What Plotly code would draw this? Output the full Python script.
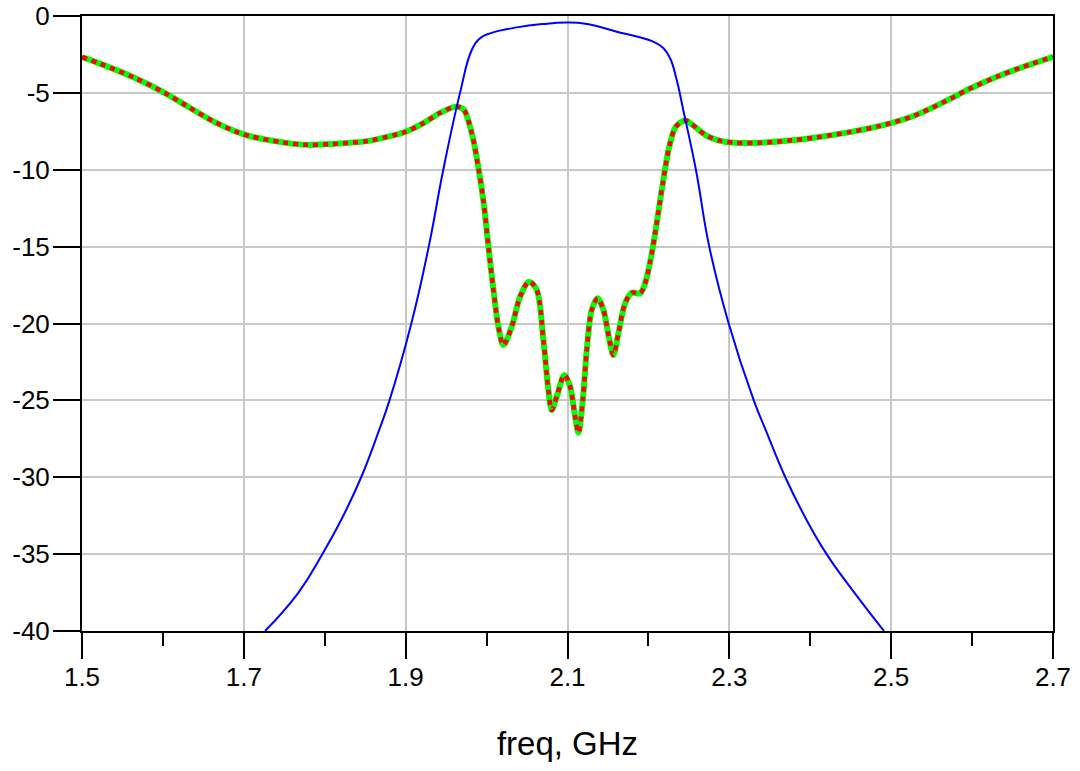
import plotly.graph_objects as go

# S21 (blue)
s21_freq = [1.7262, 1.7675, 1.797, 1.821, 1.845, 1.8663, 1.880, 1.907, 1.9285,
            1.9465, 1.9672, 1.9817, 1.992, 2.0043, 2.0373, 2.070, 2.099, 2.124,
            2.161, 2.206, 2.2186, 2.2268, 2.235, 2.243, 2.2587, 2.2752, 2.2992,
            2.3302, 2.3455, 2.3692, 2.3937, 2.4202, 2.4545, 2.4912]
s21_db = [-40, -37.5, -35, -32.7, -30, -27.06, -25, -20, -15,
          -10, -5, -2.21, -1.45, -1.13, -0.74, -0.52, -0.43, -0.52,
          -1.02, -1.67, -2.1, -2.75, -4.16, -6.1, -10, -15, -20,
          -25, -27.0, -30, -32.6, -35, -37.5, -40]

# S11 (green / red dotted)
s11_freq = [1.5, 1.5222, 1.5634, 1.6005, 1.6294, 1.6623, 1.687, 1.7077, 1.7483,
            1.7773, 1.810, 1.8517, 1.8847, 1.9, 1.9219, 1.9426, 1.9622, 1.9715,
            1.9818, 1.990, 1.9963, 2.0025, 2.0085, 2.0146, 2.0208, 2.0311, 2.0414,
            2.0525, 2.062, 2.0702, 2.0764, 2.0806, 2.0867, 2.0962, 2.1032, 2.1094,
            2.1135, 2.1189, 2.1238, 2.13, 2.1374, 2.1444, 2.1518, 2.1567, 2.1629,
            2.1712, 2.1795, 2.1897, 2.1959, 2.2025, 2.209, 2.2174, 2.2256, 2.2339,
            2.2455, 2.2545, 2.271, 2.2876, 2.308, 2.337, 2.3744, 2.407, 2.4488,
            2.4864, 2.5276, 2.5688, 2.5976, 2.6306, 2.6636, 2.7]
s11_db = [-2.67, -3.1, -3.98, -4.95, -5.85, -6.85, -7.45, -7.82, -8.22,
          -8.38, -8.32, -8.14, -7.76, -7.53, -6.97, -6.3, -5.9, -6.07,
          -7.64, -9.9, -12.1, -15.1, -17.82, -20.2, -21.4, -20.2, -18.26,
          -17.28, -17.82, -21.07, -24.33, -25.63, -24.76, -23.35, -24.1, -26.06,
          -27.1, -24.98, -21.72, -19.12, -18.36, -19.12, -21.07, -22.05, -20.64,
          -18.69, -18.0, -18.04, -17.39, -15.9, -13.9, -11.0, -8.54, -7.2,
          -6.8, -7.08, -7.76, -8.1, -8.25, -8.25, -8.1, -7.9, -7.55,
          -7.15, -6.5, -5.5, -4.72, -3.95, -3.3, -2.65]

x_tick_vals = [1.5, 1.7, 1.9, 2.1, 2.3, 2.5, 2.7]
x_tick_labels = ["1.5", "1.7", "1.9", "2.1", "2.3", "2.5", "2.7"]
y_tick_vals = [0, -5, -10, -15, -20, -25, -30, -35, -40]
y_tick_labels = ["0", "-5", "-10", "-15", "-20", "-25", "-30", "-35", "-40"]

fig = go.Figure()
fig.add_trace(go.Scatter(x=s11_freq, y=s11_db, mode="lines",
                         line=dict(color="#00ff00", width=6, shape="spline", smoothing=0.9),
                         hoverinfo="skip", showlegend=False))
fig.add_trace(go.Scatter(x=s11_freq, y=s11_db, mode="lines",
                         line=dict(color="#ff0000", width=4.5, dash="5px,5px", shape="spline", smoothing=0.9),
                         showlegend=False))
fig.add_trace(go.Scatter(x=s21_freq, y=s21_db, mode="lines",
                         line=dict(color="#0000ff", width=2, shape="spline", smoothing=1.3),
                         showlegend=False))

font_family = "Liberation Sans, Arial, sans-serif"
fig.update_layout(
    width=1080, height=771,
    margin=dict(l=82, r=27, t=16, b=140),
    paper_bgcolor="white", plot_bgcolor="white",
    font=dict(family=font_family, size=26, color="black"),
)
fig.update_xaxes(
    range=[1.5, 2.7], tickmode="array", tickvals=x_tick_vals, ticktext=x_tick_labels,
    ticks="outside", ticklen=26, tickwidth=2, tickcolor="black",
    showline=True, linecolor="black", linewidth=2, mirror=True,
    showgrid=True, gridcolor="#c8c8c8", gridwidth=2, zeroline=False,
    minor=dict(dtick=0.1, tick0=1.5, ticks="outside", ticklen=13, tickwidth=2,
               tickcolor="black", showgrid=False),
    tickfont=dict(size=26, family=font_family, color="black"),
    ticklabelstandoff=-4,
    title=dict(text="freq, GHz", font=dict(size=33, family=font_family, color="black"), standoff=41),
    automargin=False,
)
fig.update_yaxes(
    range=[-40, 0], tickmode="array", tickvals=y_tick_vals, ticktext=y_tick_labels,
    ticks="outside", ticklen=27, tickwidth=2, tickcolor="black",
    showline=True, linecolor="black", linewidth=2, mirror=True,
    showgrid=True, gridcolor="#c8c8c8", gridwidth=2, zeroline=False,
    tickfont=dict(size=26, family=font_family, color="black"),
    ticklabelstandoff=-2,
    automargin=False,
)
fig.write_html("out.html", config={"displayModeBar": False},
               post_script="document.body.style.margin='0px';document.body.style.overflow='hidden';")
